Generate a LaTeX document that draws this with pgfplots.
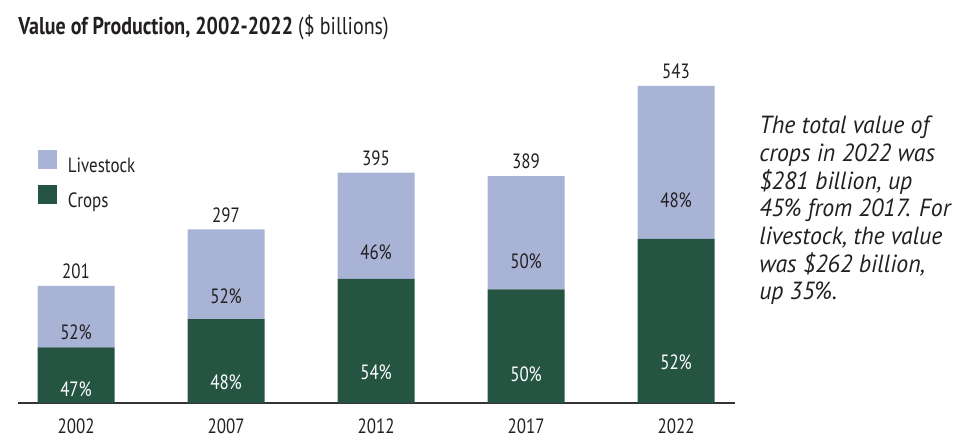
\documentclass[border=0pt]{standalone}
\usepackage{pgfplots}
\pgfplotsset{compat=1.18}
\usepackage{fontspec}
\setmainfont{PT Sans}[FakeStretch=0.82]
\newfontfamily\notefont{PT Sans}[FakeStretch=0.96]
\definecolor{cropgreen}{RGB}{38,84,66}
\definecolor{livelav}{RGB}{169,179,214}
\definecolor{txt}{RGB}{35,31,32}
\newcommand{\lblfont}{\fontsize{15.5}{18}\selectfont}
\begin{document}
\begin{tikzpicture}[x=0.75pt,y=0.75pt]
\path[use as bounding box] (0,0) rectangle (974,448);
\node[anchor=base west, inner sep=0pt, text=txt, font=\fontsize{18.25}{20}\selectfont] at (18,413)
  {\bfseries Value of Production, 2002-2022 \mdseries(\$ billions)};
\node[anchor=north west, inner sep=0pt, align=left, text=txt, font=\notefont\itshape\fontsize{18.6}{20.75}\selectfont] at (759,332)
  {The total value of\\crops in 2022 was\\\$281 billion, up\\45\% from 2017. For\\livestock, the value\\was \$262 billion,\\up 35\%.};
\begin{axis}[
  at={(13.5pt,33.75pt)}, anchor=south west,
  scale only axis, width=537.75pt, height=262.8pt,
  ybar stacked, bar width=57.75pt,
  xmin=-0.387, xmax=4.393, ymin=0, ymax=600,
  axis x line*=bottom, axis y line=none,
  x axis line style={-, color=black!80, line width=0.9pt},
  xtick={0,1,2,3,4}, xticklabels={2002,2007,2012,2017,2022},
  ytick=\empty,
  major tick length=0pt,
  xticklabel style={anchor=base, yshift=-22.9pt, font=\lblfont, text=txt},
  legend style={at={(0.0279,0.722)}, anchor=north west, draw=none, fill=none,
    inner sep=0pt, font=\lblfont, text=txt, row sep=6pt,
    /tikz/every odd column/.append style={column sep=6pt}},
  legend cell align=left,
  reverse legend,
  legend image code/.code={\fill[#1] (0pt,-2.2pt) rectangle (14.25pt,12pt);},
  nodes near coords, point meta=explicit symbolic,
  visualization depends on={rawy \as \rawy},
]
\addplot[fill=cropgreen, draw=none,
  nodes near coords align=center,
  every node near coord/.append style={yshift={-\rawy*0.1095pt}, text=white, font=\lblfont}]
  coordinates {(0,95.1)[47\%] (1,143.7)[48\%] (2,212.4)[54\%] (3,194.6)[50\%] (4,281.0)[52\%]};
\addlegendentry{Crops}
\addplot[fill=livelav, draw=none,
  nodes near coords align=center,
  every node near coord/.append style={yshift={-\rawy*0.1095pt}, text=txt, font=\lblfont}]
  coordinates {(0,105.5)[52\%] (1,153.6)[52\%] (2,182.2)[46\%] (3,193.9)[50\%] (4,262.0)[48\%]};
\addlegendentry{Livestock}
\addplot[draw=none, fill=none, forget plot,
  every node near coord/.append style={inner sep=0pt, yshift=10.8pt, text=txt, font=\lblfont}]
  coordinates {(0,0.01)[201] (1,0.01)[297] (2,0.01)[395] (3,0.01)[389] (4,0.01)[543]};
\end{axis}
\end{tikzpicture}
\end{document}
